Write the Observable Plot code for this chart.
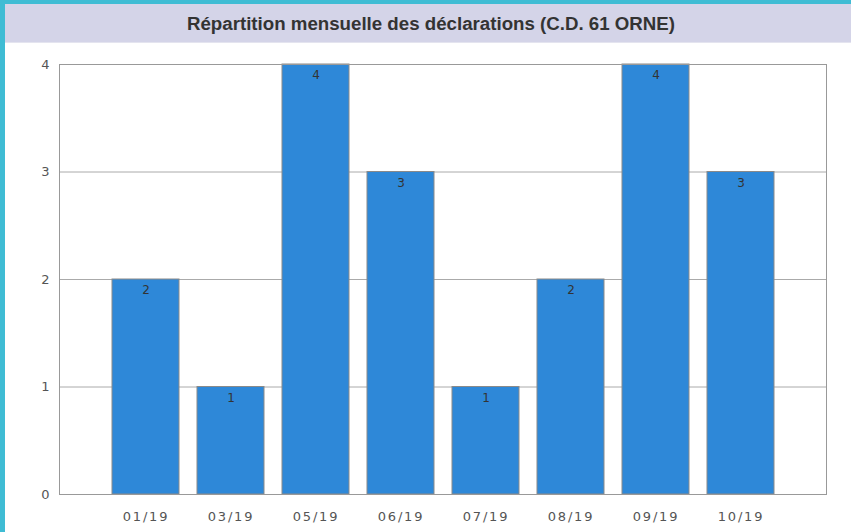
<!DOCTYPE html>
<html>
<head>
<meta charset="utf-8">
<script src="https://cdn.jsdelivr.net/npm/d3@7"></script>
<script src="https://cdn.jsdelivr.net/npm/@observablehq/plot@0.6"></script>
<style>
  html, body { margin: 0; padding: 0; background: #fff; }
  #wrap { width: 846px; height: 528px; border-top: 4px solid #3fbcd4; border-left: 5px solid #3fbcd4; background: #fff; position: relative; overflow: hidden; }
  #title { height: 39px; line-height: 39px; background: #d4d4e8; border-bottom: 1px solid #e4e4ef; text-align: center; font-family: "Liberation Sans", Arial, sans-serif; font-weight: bold; font-size: 18.7px; color: #333; box-sizing: border-box; padding-left: 6px; }
  #chart svg { display: block; }
  #chart svg g[aria-label="x-axis tick label"] text { letter-spacing: 1.8px; }
</style>
</head>
<body>
<div id="wrap">
  <div id="title">Répartition mensuelle des déclarations (C.D. 61 ORNE)</div>
  <div id="chart"></div>
</div>
<script>
const months = ["01/19", "03/19", "05/19", "06/19", "07/19", "08/19", "09/19", "10/19"];
const counts = [2, 1, 4, 3, 1, 2, 4, 3];
const yTicks = [0, 1, 2, 3, 4];

const data = months.map((m, i) => ({month: m, count: counts[i]}));

const chart = Plot.plot({
  width: 846,
  height: 489,
  marginLeft: 54,
  marginRight: 25,
  marginTop: 21,
  marginBottom: 38,
  style: {fontFamily: "DejaVu Sans, sans-serif", fontSize: "13px", color: "#555", background: "#fff"},
  x: {domain: months, paddingInner: 0.214, paddingOuter: 0.607, label: null},
  y: {domain: [0, 4], label: null},
  marks: [
    Plot.ruleY(yTicks.slice(1, -1), {stroke: "#aaa", strokeWidth: 1}),
    Plot.barY(data, {x: "month", y: "count", fill: "#2e88d8", stroke: "#8a8a8a", strokeWidth: 1}),
    Plot.text(data, {x: "month", y: "count", text: d => String(d.count), dy: 11, fill: "#333", fontSize: 12}),
    Plot.frame({stroke: "#999", strokeWidth: 1}),
    Plot.axisY({ticks: yTicks, tickSize: 0, tickPadding: 10, tickFormat: d => String(d), fill: "#555", fontSize: 13, label: null}),
    Plot.axisX({tickSize: 0, tickPadding: 17, fill: "#555", fontSize: 13, label: null})
  ]
});
document.getElementById("chart").appendChild(chart);
</script>
</body>
</html>
